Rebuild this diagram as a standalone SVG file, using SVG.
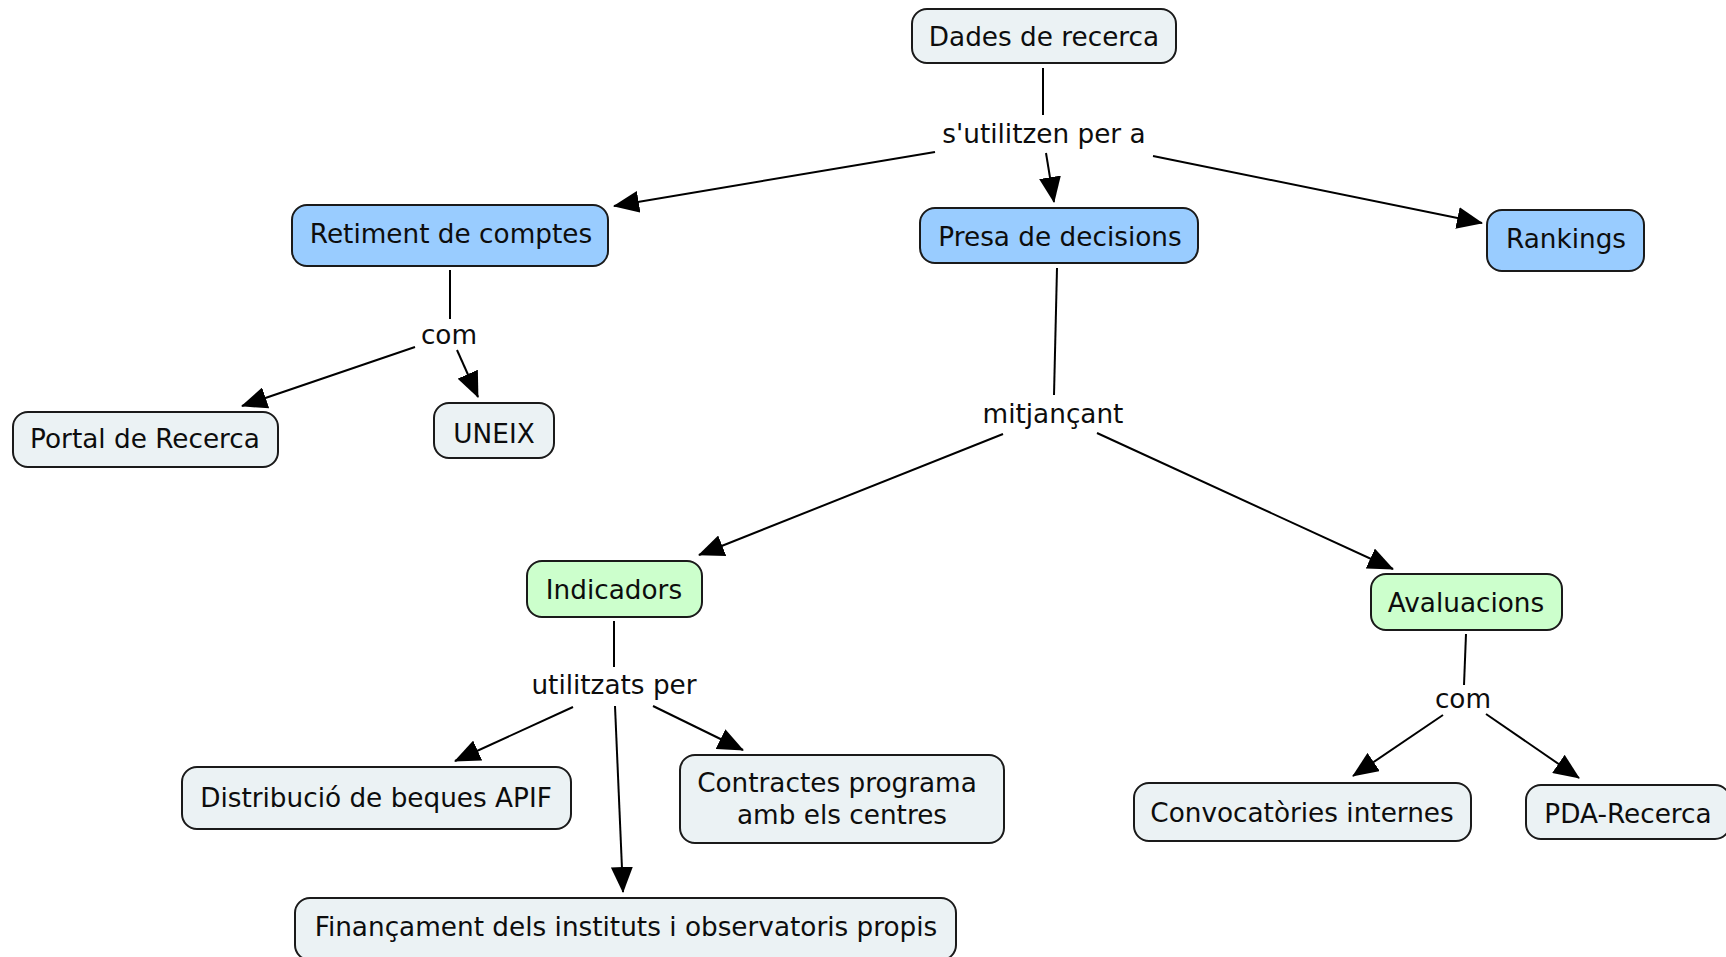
<svg xmlns="http://www.w3.org/2000/svg" width="1726" height="957" viewBox="0 0 1726 957">
<style>
.n rect{stroke:#1a1a1a;stroke-width:2}
.g rect{fill:#ebf2f4}
.b rect{fill:#99ccff}
.v rect{fill:#ccffcc}
text{font-family:"DejaVu Sans","Verdana",sans-serif;font-size:26.3px;fill:#0d0d0d;text-anchor:middle}
#connectors line{stroke:#000;stroke-width:2}
#connectors line.a{marker-end:url(#arr)}
</style>
<defs>
<marker id="arr" markerUnits="userSpaceOnUse" markerWidth="26" markerHeight="22" refX="25" refY="11" orient="auto" viewBox="0 0 26 22">
<path d="M0,0 L26,11 L0,22 z" fill="#000"/>
</marker>
</defs>
<rect width="1726" height="957" fill="#fff"/>
<g id="connectors">
<line x1="1043" y1="68" x2="1043" y2="115"/>
<line class="a" x1="935" y1="152" x2="614" y2="206"/>
<line class="a" x1="1046" y1="153" x2="1054" y2="202"/>
<line class="a" x1="1153" y1="156" x2="1482" y2="223"/>
<line x1="450" y1="270" x2="450" y2="319"/>
<line class="a" x1="415" y1="347" x2="242" y2="406"/>
<line class="a" x1="457" y1="350" x2="478" y2="397"/>
<line x1="1057" y1="268" x2="1054" y2="395"/>
<line class="a" x1="1003" y1="434" x2="699" y2="555"/>
<line class="a" x1="1097" y1="433" x2="1393" y2="569"/>
<line x1="614" y1="621" x2="614" y2="667"/>
<line class="a" x1="573" y1="707" x2="455" y2="761"/>
<line class="a" x1="615" y1="706" x2="623" y2="892"/>
<line class="a" x1="653" y1="706" x2="743" y2="750"/>
<line x1="1466" y1="634" x2="1464" y2="685"/>
<line class="a" x1="1443" y1="715" x2="1353" y2="776"/>
<line class="a" x1="1486" y1="714" x2="1579" y2="778"/>
</g>
<g id="labels">
<text x="1044" y="143">s'utilitzen per a</text>
<text x="449" y="344">com</text>
<text x="1053" y="423">mitjançant</text>
<text x="614" y="694">utilitzats per</text>
<text x="1463" y="708">com</text>
</g>
<g id="dades" class="n g"><rect x="912" y="9" width="264" height="54" rx="15"/><text x="1044" y="46">Dades de recerca</text></g>
<g id="retiment" class="n b"><rect x="292" y="205" width="316" height="61" rx="15"/><text x="451" y="243">Retiment de comptes</text></g>
<g id="presa" class="n b"><rect x="920" y="208" width="278" height="55" rx="15"/><text x="1060" y="246">Presa de decisions</text></g>
<g id="rankings" class="n b"><rect x="1487" y="210" width="157" height="61" rx="15"/><text x="1566" y="248">Rankings</text></g>
<g id="portal" class="n g"><rect x="13" y="412" width="265" height="55" rx="15"/><text x="145" y="448">Portal de Recerca</text></g>
<g id="uneix" class="n g"><rect x="434" y="403" width="120" height="55" rx="15"/><text x="494" y="443">UNEIX</text></g>
<g id="indicadors" class="n v"><rect x="527" y="561" width="175" height="56" rx="15"/><text x="614" y="599">Indicadors</text></g>
<g id="avaluacions" class="n v"><rect x="1371" y="574" width="191" height="56" rx="15"/><text x="1466" y="612">Avaluacions</text></g>
<g id="distribucio" class="n g"><rect x="182" y="767" width="389" height="62" rx="15"/><text x="376" y="807">Distribució de beques APIF</text></g>
<g id="contractes" class="n g"><rect x="680" y="755" width="324" height="88" rx="15"/><text x="837" y="792">Contractes programa</text><text x="842" y="824">amb els centres</text></g>
<g id="financament" class="n g"><rect x="295" y="898" width="661" height="62" rx="15"/><text x="626" y="936">Finançament dels instituts i observatoris propis</text></g>
<g id="convocatories" class="n g"><rect x="1134" y="783" width="337" height="58" rx="15"/><text x="1302" y="822">Convocatòries internes</text></g>
<g id="pda" class="n g"><rect x="1526" y="785" width="204" height="54" rx="15"/><text x="1628" y="823">PDA-Recerca</text></g>
</svg>
